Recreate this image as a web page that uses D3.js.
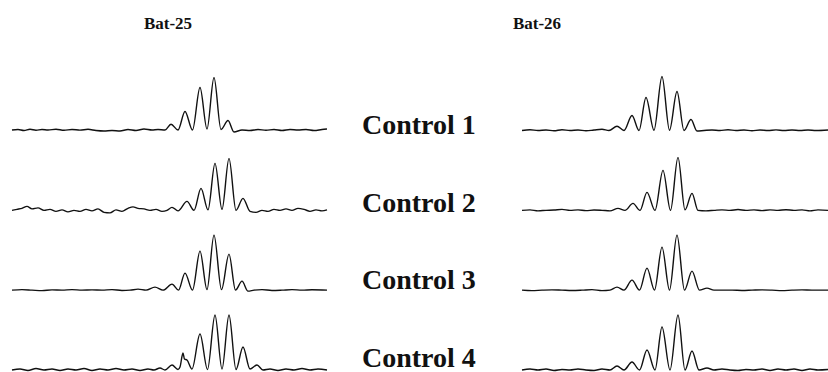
<!DOCTYPE html>
<html>
<head>
<meta charset="utf-8">
<script src="https://cdn.jsdelivr.net/npm/d3@7"></script>
<style>
  html, body { margin: 0; padding: 0; background: #fff; }
  svg { display: block; }
</style>
</head>
<body>
<svg id="chart" width="828" height="372"></svg>
<script>
// ---- data (scan position, signal) ----
const markers = ["Bat-25", "Bat-26"];
const controls = ["Control 1", "Control 2", "Control 3", "Control 4"];

const bat25Control1 = [[0,0.5],[6,1],[12,0],[18,1.2],[24,0.3],[30,1],[36,0.5],[44,1.3],[52,0.2],[60,1],[68,0.4],[76,1.2],[84,0],[92,-0.5],[100,0],[108,-0.5],[116,1],[124,0],[132,1.5],[140,0.5],[146,1],[153,0.5],[159,6.3],[166,0.5],[173,19],[180.5,0.5],[188,43],[195,1.5],[202,53],[209,1],[216,10],[222,-1.5],[230,0.5],[238,0],[246,1],[254,0.3],[262,1],[270,0],[278,1],[286,0.5],[294,1],[302,0],[310,1],[315,1.5]];
const bat25Control2 = [[0,0],[5,1],[10,2],[15,4],[20,1.5],[26,2.5],[32,0],[38,1],[44,-1],[50,0.5],[56,-1.5],[62,0],[68,-1],[74,1],[80,-0.5],[86,1.5],[92,-2],[98,-2.5],[104,0.5],[110,-1],[116,2],[121,3.5],[126,2],[132,1.5],[138,0],[144,1],[150,-1],[155,0],[160,3],[166,-0.5],[175,9],[182,0],[189,22],[196,0.5],[203,47],[210,1],[217,52],[224,0],[231,12],[238,-1],[244,-2],[250,0],[256,-1],[262,1],[268,0],[274,1.5],[280,0],[286,2],[292,1],[298,-1],[304,0.5],[310,-0.5],[315,0.5]];
const bat25Control3 = [[0,0],[10,0.5],[20,0],[30,-0.5],[40,0.3],[50,0],[60,0.5],[70,0],[80,0.3],[90,0],[100,0.5],[110,-0.3],[118,0],[126,1],[134,0],[143,3],[151,0],[160,6],[166.5,0],[173,17],[180.5,0],[188,39],[195,0.5],[202,55],[209.5,0.5],[217,36],[223.5,0],[230,9],[236,-1],[242,0],[250,0.5],[260,-0.3],[270,0],[280,0.5],[290,0],[300,0.4],[315,0]];
const bat25Control4 = [[0,0],[8,1],[16,-0.5],[24,1.5],[32,0],[40,1],[48,-0.5],[56,1],[64,0],[72,1.5],[80,-0.5],[88,1],[96,0],[104,1.5],[112,0],[120,1],[128,-0.5],[136,1],[142,0],[148,2],[153,0],[160,5],[166,0.5],[168,3],[171,17],[172.5,11],[175,10],[180,1],[188,36],[195.5,0.5],[203,55],[210,1],[217,55],[224,0.5],[231,23],[238,1],[245,5],[251,0],[258,1],[266,-0.5],[274,1],[282,0],[290,1.5],[298,0],[306,1],[315,0]];

const bat26Control1 = [[0,0],[8,0.8],[16,0],[24,0.5],[32,-0.3],[40,0.8],[48,0],[56,0.5],[64,-0.3],[72,0.5],[80,1.2],[87,0],[95,4.3],[102,0],[110,15],[117,0],[124,33],[132,0.3],[140,54],[147.5,0.3],[155,39],[162,0],[169,11],[175,-0.5],[182,0],[190,0.5],[198,0],[206,0.8],[214,0],[222,0.5],[230,-0.3],[238,0.5],[246,0],[254,0.6],[262,0],[270,0.5],[278,0],[286,0.5],[294,0],[306,0.5]];
const bat26Control2 = [[0,0],[8,0.5],[16,-0.5],[24,0],[32,0.3],[40,1],[48,0],[56,0.5],[64,-0.3],[72,0.3],[80,0],[88,-0.5],[96,2],[103,0],[111,7],[118,0],[125,18],[133,0],[141,40],[148.5,0],[156,53],[163,0.5],[170,17],[176,0],[184,-0.5],[192,0],[200,0.5],[208,0],[216,0.8],[224,0],[232,0.5],[240,-0.3],[248,0.5],[256,0],[264,0.6],[272,0],[280,0.5],[288,-0.5],[296,0.5],[306,0]];
const bat26Control3 = [[0,0],[10,-0.5],[20,0],[30,0.3],[40,0],[50,-0.3],[60,0],[70,0.5],[80,-0.5],[88,0],[95,3],[102,0],[110,10],[117.5,0],[125,22],[132.5,0],[140,43],[147.5,0],[155,55],[162.5,0],[170,19],[177.5,0],[185,2],[192,0],[200,0],[210,0],[220,-0.3],[230,0],[240,0.3],[250,0],[260,-0.5],[270,0],[280,0.3],[290,0],[306,0]];
const bat26Control4 = [[0,0],[8,1],[16,0],[24,1],[32,-0.5],[40,0.5],[48,0],[56,1],[64,0],[72,-0.5],[80,1],[88,0],[95,4],[102,0],[110,8],[117.5,0],[125,20],[133,0],[140,43],[148,0],[156,55],[163,0],[170,19],[177,0],[185,2],[192,0],[200,1],[208,0],[216,-0.5],[224,0.5],[232,0],[240,1],[248,-0.5],[256,1],[264,0],[272,1],[280,-0.5],[288,1],[296,0],[306,0.5]];

const traces = [
  [bat25Control1, bat25Control2, bat25Control3, bat25Control4],
  [bat26Control1, bat26Control2, bat26Control3, bat26Control4]
];

// ---- layout ----
const svg = d3.select("#chart");
const colX = [
  d3.scaleLinear().domain([0, 315]).range([12, 327]),
  d3.scaleLinear().domain([0, 315]).range([522, 837])
];
const rowY = d3.scalePoint().domain(controls).range([130.5, 370]);
const labelY = d3.scalePoint().domain(controls).range([134, 367]);
const signalHeight = 60; // px for 60 signal units

markers.forEach((m, ci) => {
  const x = colX[ci];
  controls.forEach((c, ri) => {
    const base = rowY(c);
    const y = d3.scaleLinear().domain([0, 60]).range([base, base - signalHeight]);
    const line = d3.line()
      .x(d => x(d[0]))
      .y(d => y(d[1]))
      .curve(d3.curveMonotoneX);
    svg.append("path")
      .datum(traces[ci][ri])
      .attr("d", line)
      .attr("fill", "none")
      .attr("stroke", "#111")
      .attr("stroke-width", 1.4)
      .attr("stroke-linejoin", "round");
  });
});

// column titles
const titleX = [168, 537];
svg.selectAll("text.title")
  .data(markers)
  .enter().append("text")
  .attr("class", "title")
  .attr("x", (d, i) => titleX[i])
  .attr("y", 29)
  .attr("text-anchor", "middle")
  .attr("font-family", "'Liberation Serif', 'Times New Roman', serif")
  .attr("font-weight", "bold")
  .attr("font-size", 17)
  .attr("fill", "#111")
  .text(d => d);

// row labels
svg.selectAll("text.ctrl")
  .data(controls)
  .enter().append("text")
  .attr("class", "ctrl")
  .attr("x", 362)
  .attr("y", d => labelY(d))
  .attr("font-family", "'Liberation Serif', 'Times New Roman', serif")
  .attr("font-weight", "bold")
  .attr("font-size", 28)
  .attr("fill", "#111")
  .text(d => d);
</script>
</body>
</html>
